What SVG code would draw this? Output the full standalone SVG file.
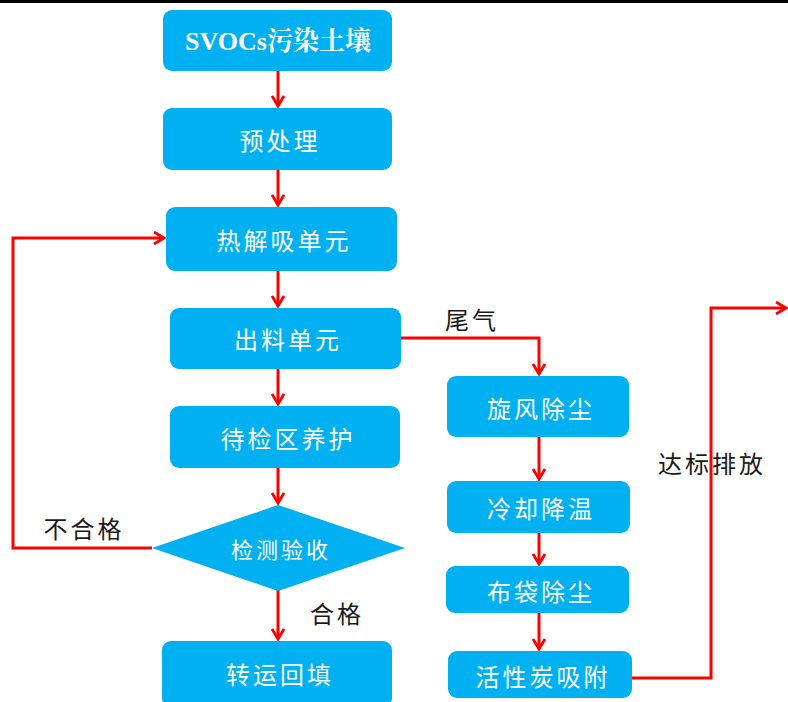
<svg xmlns="http://www.w3.org/2000/svg" width="788" height="702" viewBox="0 0 788 702">
<defs>
<marker id="arr" markerWidth="14" markerHeight="14" refX="11" refY="7" orient="auto" markerUnits="userSpaceOnUse">
<polyline points="1,1 11,7 1,13" fill="none" stroke="#FF0000" stroke-width="2.8"/>
</marker>
<style>
.box{fill:#00B0F0;}
.t{font-family:"Noto Sans CJK SC","Noto Sans",sans-serif;font-size:24px;letter-spacing:3px;fill:#FFFFFF;text-anchor:middle;dominant-baseline:central;}
.ts{font-family:"Liberation Serif","Noto Serif CJK SC","Noto Sans CJK SC",serif;font-size:26px;font-weight:bold;fill:#FFFFFF;text-anchor:middle;dominant-baseline:central;}
.lb{font-family:"Noto Sans CJK SC","Noto Sans",sans-serif;font-size:24px;letter-spacing:3px;fill:#1A1A1A;text-anchor:middle;dominant-baseline:central;}
.c{fill:none;stroke:#FF0000;stroke-width:3;}
</style>
</defs>
<rect x="0" y="0" width="788" height="702" fill="#FFFFFF"/>
<rect x="0" y="0" width="788" height="3" fill="#000000"/>
<g id="connectors">
<line class="c" x1="278" y1="71" x2="278" y2="106" marker-end="url(#arr)"/>
<line class="c" x1="278" y1="170" x2="278" y2="205" marker-end="url(#arr)"/>
<line class="c" x1="278" y1="271" x2="278" y2="306" marker-end="url(#arr)"/>
<line class="c" x1="278" y1="369" x2="278" y2="404" marker-end="url(#arr)"/>
<line class="c" x1="278" y1="468" x2="278" y2="503" marker-end="url(#arr)"/>
<line class="c" x1="278" y1="590" x2="278" y2="639" marker-end="url(#arr)"/>
<polyline class="c" points="152,548 13,548 13,238 164,238" marker-end="url(#arr)"/>
<polyline class="c" points="401,338 539,338 539,374" marker-end="url(#arr)"/>
<line class="c" x1="539" y1="437" x2="539" y2="479" marker-end="url(#arr)"/>
<line class="c" x1="539" y1="533" x2="539" y2="564" marker-end="url(#arr)"/>
<line class="c" x1="539" y1="613" x2="539" y2="649" marker-end="url(#arr)"/>
<polyline class="c" points="632,678 711,678 711,308 786,308" marker-end="url(#arr)"/>
<text class="lb" x="472" y="318">尾气</text>
<text class="lb" x="84" y="527">不合格</text>
<text class="lb" x="337" y="612">合格</text>
<text class="lb" x="712" y="462">达标排放</text>
</g>
<g id="n1"><rect class="box" x="163" y="10" width="229" height="61" rx="9"/><text class="ts" x="278" y="41">SVOCs污染土壤</text></g>
<g id="n2"><rect class="box" x="163" y="108" width="229" height="62" rx="9"/><text class="t" x="280" y="139">预处理</text></g>
<g id="n3"><rect class="box" x="166" y="207" width="231" height="64" rx="9"/><text class="t" x="284" y="239">热解吸单元</text></g>
<g id="n4"><rect class="box" x="170" y="308" width="231" height="61" rx="9"/><text class="t" x="288" y="338">出料单元</text></g>
<g id="n5"><rect class="box" x="170" y="406" width="230" height="62" rx="9"/><text class="t" x="288" y="437">待检区养护</text></g>
<g id="n6"><polygon class="box" points="152,548 278,505 405,548 278,591"/><text class="t" x="281" y="548" style="font-size:22px">检测验收</text></g>
<g id="n7"><rect class="box" x="162" y="641" width="230" height="66" rx="9"/><text class="t" x="280" y="673">转运回填</text></g>
<g id="n8"><rect class="box" x="447" y="376" width="182" height="61" rx="9"/><text class="t" x="541" y="407">旋风除尘</text></g>
<g id="n9"><rect class="box" x="447" y="481" width="183" height="52" rx="9"/><text class="t" x="541" y="507">冷却降温</text></g>
<g id="n10"><rect class="box" x="446" y="566" width="183" height="47" rx="9"/><text class="t" x="541" y="590">布袋除尘</text></g>
<g id="n11"><rect class="box" x="448" y="651" width="184" height="47" rx="9"/><text class="t" x="543" y="675">活性炭吸附</text></g>
</svg>
